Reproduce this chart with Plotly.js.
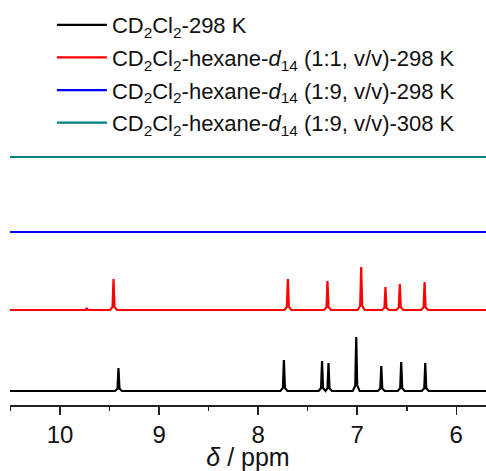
<!DOCTYPE html>
<html>
<head>
<meta charset="utf-8">
<script src="https://cdn.plot.ly/plotly-3.0.1.min.js"></script>
<style>html,body{margin:0;padding:0;background:#fff;}#chart{width:486px;height:471px;}</style>
</head>
<body>
<div id="chart"></div>
<script>
// Series labels
const seriesNames = [
  "CD<sub>2</sub>Cl<sub>2</sub>-298 K",
  "CD<sub>2</sub>Cl<sub>2</sub>-hexane-<i>d</i><sub>14</sub> (1:1, v/v)-298 K",
  "CD<sub>2</sub>Cl<sub>2</sub>-hexane-<i>d</i><sub>14</sub> (1:9, v/v)-298 K",
  "CD<sub>2</sub>Cl<sub>2</sub>-hexane-<i>d</i><sub>14</sub> (1:9, v/v)-308 K"
];
// Peak positions (ppm) and heights (arb.)
const shiftsCD2Cl2 = [9.41, 7.74, 7.355, 7.29, 7.01, 6.757, 6.556, 6.313];
const heightsCD2Cl2 = [23, 31, 30, 28, 54, 25, 29, 28];
const shiftsHex11 = [9.73, 9.46, 7.70, 7.30, 6.96, 6.715, 6.57, 6.32];
const heightsHex11 = [2, 31, 31, 29, 43, 23, 26, 28];
const shiftsHex19_298 = [];
const heightsHex19_298 = [];
const shiftsHex19_308 = [];
const heightsHex19_308 = [];
const tickVals = [10, 9, 8, 7, 6];

// styling / stacking
const colors = ["#000000", "#ff0000", "#0000ff", "#008080"];
const offsets = [14, 95, 173, 248];
const X_MIN = 5.6, X_MAX = 10.6;

function buildSpectrum(shifts, heights, offset) {
  const pts = [[X_MAX, 0], [X_MIN, 0]];
  shifts.forEach((p, i) => {
    const h = heights[i];
    pts.push([p + 0.035, 0], [p + 0.01, 0.1 * h], [p, h], [p - 0.01, 0.1 * h], [p - 0.035, 0]);
  });
  pts.sort((a, b) => b[0] - a[0]);
  return {x: pts.map(q => q[0]), y: pts.map(q => q[1] + offset)};
}

const spectra = [
  [shiftsCD2Cl2, heightsCD2Cl2],
  [shiftsHex11, heightsHex11],
  [shiftsHex19_298, heightsHex19_298],
  [shiftsHex19_308, heightsHex19_308]
];

const traces = spectra.map((s, i) => {
  const d = buildSpectrum(s[0], s[1], offsets[i]);
  return {
    x: d.x, y: d.y, type: "scatter", mode: "lines",
    name: seriesNames[i], legendgroup: "g" + i,
    line: {color: colors[i], width: 2.2}, hoverinfo: "skip"
  };
});

const layout = {
  width: 486, height: 471,
  margin: {l: 10, r: 0, t: 0, b: 66},
  paper_bgcolor: "#fff", plot_bgcolor: "#fff",
  font: {family: "Liberation Sans, Arial, sans-serif", color: "#111"},
  showlegend: true,
  legend: {
    x: 0.088, xanchor: "left", y: 0.99, yanchor: "top",
    font: {size: 22, color: "#111"}, itemwidth: 50,
    tracegroupgap: 1, bgcolor: "rgba(0,0,0,0)", borderwidth: 0
  },
  xaxis: {
    range: [10.505, 5.70], autorange: false,
    tickvals: tickVals, ticktext: tickVals.map(String),
    ticks: "outside", ticklen: 8, tickwidth: 1.5, tickcolor: "#222",
    showline: true, linewidth: 1.5, linecolor: "#222",
    showgrid: false, zeroline: false,
    tickfont: {size: 24, color: "#111"},
    minor: {dtick: 0.5, tick0: 0, ticks: "outside", ticklen: 4, tickwidth: 1.5, tickcolor: "#222", showgrid: false},
    title: {text: "<i>δ</i> / ppm", font: {size: 25, color: "#111"}, standoff: 0}
  },
  yaxis: {range: [0, 405], autorange: false, visible: false, showgrid: false, zeroline: false}
};

Plotly.newPlot("chart", traces, layout, {staticPlot: true, displayModeBar: false});
</script>
</body>
</html>
